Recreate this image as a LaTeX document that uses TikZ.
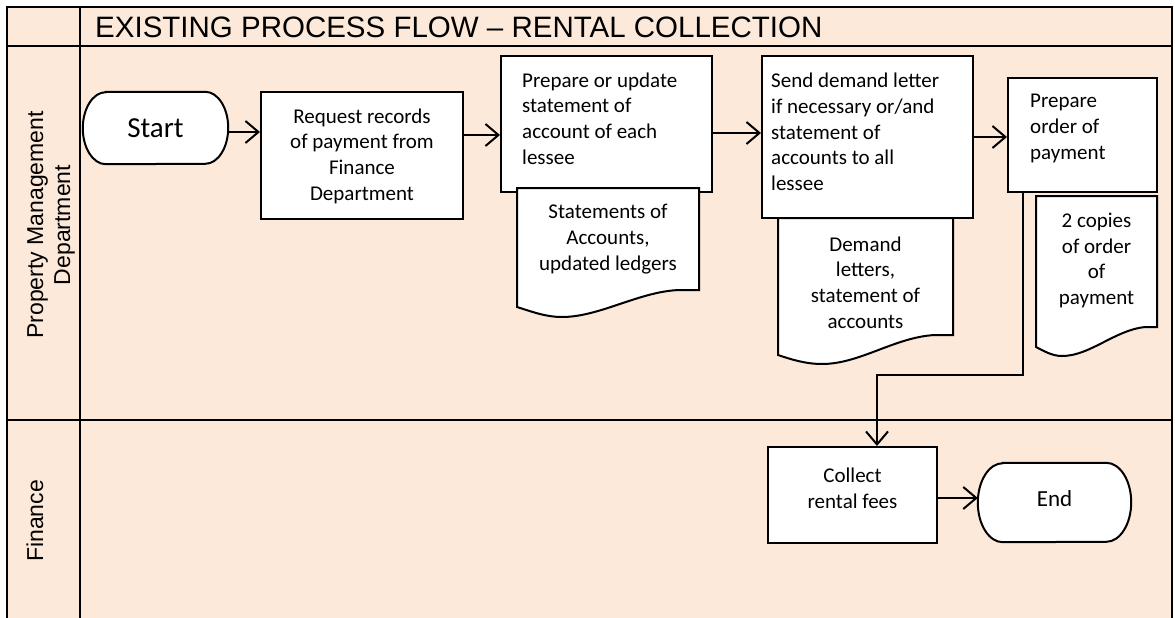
\documentclass[tikz,border=0pt]{standalone}
\usepackage{fontspec}
\setmainfont{Carlito}
\newfontfamily\lanefont{Liberation Sans}
\usetikzlibrary{arrows.meta}
\definecolor{lanebg}{RGB}{252,233,218}

\begin{document}
\begin{tikzpicture}[x=1pt,y=-1pt]
                \tikzstyle{every node}+=[inner sep=0pt]
                \tikzstyle{procbox}=[draw=black, fill=white, line width=2pt, rectangle]
                \tikzstyle{termnode}=[rectangle]
                \tikzstyle{termline}=[draw=black, fill=white, line width=2pt]
                \tikzstyle{docline}=[draw=black, fill=white, line width=2pt]
                \tikzstyle{boxtext}=[font=\fontsize{21}{25.7}\selectfont, align=center]
                \tikzstyle{lefttext}=[font=\fontsize{21}{25.7}\selectfont, align=left, anchor=west]
                \tikzstyle{lanetext}=[font=\lanefont\fontsize{23}{27}\selectfont, align=center, rotate=90]
                \tikzstyle{arr}=[-{Straight Barb[length=13pt,width=22pt]}, line width=2pt]
                \useasboundingbox (0,0) rectangle (1175,618);
                \fill [lanebg] (7,7) rectangle (1172,618);
                \draw [line width=2pt] (7,618) -- (7,7) -- (1172,7) -- (1172,618);
                \draw [line width=2pt] (7,46) -- (1172,46);
                \draw [line width=2pt] (7,420) -- (1172,420);
                \draw [line width=2pt] (80,7) -- (80,618);
                \node [font=\lanefont\fontsize{29.5}{32}\selectfont, anchor=west] (title) at (95,27) {EXISTING PROCESS FLOW – RENTAL COLLECTION};
                \node [lanetext] (pmd) at (51,225) {Property Management\\Department};
                \node [lanetext] (fin) at (35,521) {Finance};
                \node [termnode, minimum width=145, minimum height=72] (start) at (155.5,128) {};
                \draw [termline] ([xshift=23pt]start.north west) -- ([xshift=-23pt]start.north east) arc [start angle=90, end angle=-90, x radius=23pt, y radius=36pt] -- ([xshift=23pt]start.south west) arc [start angle=270, end angle=90, x radius=23pt, y radius=36pt] -- cycle;
                \node [font=\fontsize{29}{32}\selectfont] (start-t) at (155.5,128) {Start};
                \node [procbox, minimum width=202, minimum height=127] (request) at (362,155.5) {};
                \node [boxtext] (request-t) at (362,156) {Request records\\of payment from\\Finance\\Department};
                \node [procbox, minimum width=211, minimum height=136] (prep) at (606.5,124) {};
                \node [lefttext] (prep-t) at (522,118.5) {Prepare or update\\statement of\\account of each\\lessee};
                \node [procbox, minimum width=211, minimum height=162] (send) at (867.5,137) {};
                \node [lefttext] (send-t) at (771,132) {Send demand letter\\if necessary or/and\\statement of\\accounts to all\\lessee};
                \node [procbox, minimum width=149, minimum height=114] (order) at (1082.5,135) {};
                \node [lefttext] (order-t) at (1030,128.5) {Prepare\\order of\\payment};
                \node [procbox, minimum width=169, minimum height=96] (collect) at (852.5,495) {};
                \node [boxtext] (collect-t) at (852.5,488) {Collect\\rental fees};
                \node [termnode, minimum width=153, minimum height=79] (finish) at (1054.5,502.5) {};
                \draw [termline] ([xshift=25pt]finish.north west) -- ([xshift=-25pt]finish.north east) arc [start angle=90, end angle=-90, x radius=25pt, y radius=39.5pt] -- ([xshift=25pt]finish.south west) arc [start angle=270, end angle=90, x radius=25pt, y radius=39.5pt] -- cycle;
                \node [font=\fontsize{23}{26}\selectfont] (finish-t) at (1054.5,499) {End};
                \draw [docline] (517,188) -- (699,188) -- (699,290) -- (680,290) .. controls (640,291) and (600,317) .. (562,317) .. controls (545,317) and (530,311) .. (517,307) -- cycle;
                \node [boxtext] (ledger-t) at (608,239) {Statements of\\Accounts,\\updated ledgers};
                \draw [docline] (778,218) -- (953,218) -- (953,335) -- (935,335) .. controls (895,337) and (860,364) .. (822,364) .. controls (805,364) and (790,359) .. (778,355) -- cycle;
                \node [boxtext] (letter-t) at (865.5,282.5) {Demand\\letters,\\statement of\\accounts};
                \draw [docline] (1036,196) -- (1157,196) -- (1157,327) -- (1145,327) .. controls (1115,330) and (1090,356) .. (1062,356) .. controls (1052,356) and (1044,351) .. (1036,347) -- cycle;
                \node [boxtext] (copies-t) at (1096.5,260.5) {2 copies\\of order\\of\\payment};
                \draw [arr] (start.east |- 0,132) -- (request.west |- 0,132);
                \draw [arr] (request.east |- 0,135) -- (prep.west |- 0,135);
                \draw [arr] (prep.east |- 0,133) -- (send.west |- 0,133);
                \draw [arr] (send.east) -- (send.east -| order.west);
                \coordinate (turn) at (877,375);
                \draw [arr] ([xshift=16pt]order.south west) |- (turn) -- (turn |- collect.north);
                \draw [arr] (collect.east |- 0,498) -- (finish.west |- 0,498);
\end{tikzpicture}
\end{document}
